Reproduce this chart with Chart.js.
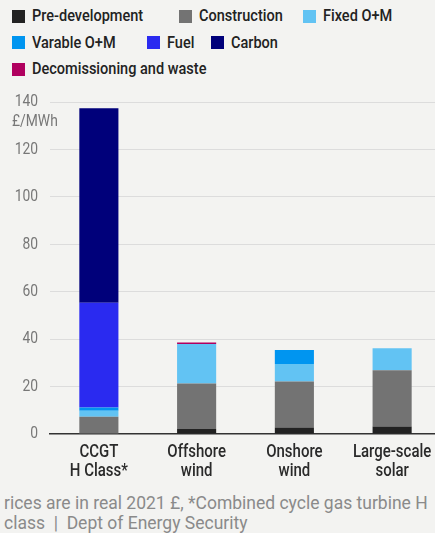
<!DOCTYPE html>
<html>
<head>
<meta charset="utf-8">
<script src="https://cdn.jsdelivr.net/npm/chart.js@4.4.1/dist/chart.umd.min.js"></script>
<style>
  html, body { margin: 0; padding: 0; background: #f3f3f1; width: 435px; height: 533px; overflow: hidden; position: relative; }
  #legend { position: absolute; top: 6px; left: 12px; width: 420px; display: flex; flex-wrap: wrap; row-gap: 6.5px;
            font-family: Roboto, sans-serif; font-weight: 500; font-size: 16.5px; color: #222; line-height: 20px; }
  #legend .item { display: flex; align-items: center; white-space: nowrap; margin-right: 24px; }
  #legend .item:nth-child(1) { margin-right: 36px; }
  #legend .item:nth-child(2) { margin-right: 20px; }
  #legend .item:nth-child(4) { margin-right: 31px; }
  #legend .item:nth-child(5) { margin-right: 17px; }
  #legend .sw { width: 13px; height: 13px; margin-right: 7px; display: inline-block; flex: none; }
  #legend .txt { display: inline-block; transform-origin: 0 50%; }
  #wrap { position: absolute; left: 0; top: 80px; width: 441px; height: 409px; }
  #foot { position: absolute; left: 4px; top: 493px; font-family: Roboto, "Noto Sans", sans-serif; font-size: 17.5px; line-height: 20px; color: #8a8a8a; white-space: nowrap; }
</style>
</head>
<body>
<div id="legend"></div>
<div id="wrap"><canvas id="c" width="441" height="409"></canvas></div>
<div id="foot">rices are in real 2021 £, *Combined cycle gas turbine H<br>class&nbsp; | &nbsp;Dept of Energy Security</div>
<script>
// Levelised cost components, £/MWh (real 2021 prices)
const categories = [["CCGT", "H Class*"], ["Offshore", "wind"], ["Onshore", "wind"], ["Large-scale", "solar"]];
const preDevelopment = [0, 2.1, 2.7, 3.1];
const construction   = [7.3, 19.2, 19.4, 23.8];
const fixedOM        = [2.5, 16.6, 7.4, 9.3];
const variableOM     = [1.4, 0, 5.9, 0];
const fuel           = [44.2, 0, 0, 0];
const carbon         = [82.0, 0, 0, 0];
const decommissioning = [0, 0.7, 0, 0];
const yTicks = [0, 20, 40, 60, 80, 100, 120, 140];
const unitLabel = "£/MWh";

const series = [
  { label: "Pre-development", data: preDevelopment, color: "#222222" },
  { label: "Construction", data: construction, color: "#737373" },
  { label: "Fixed O+M", data: fixedOM, color: "#62c3f3" },
  { label: "Varable O+M", data: variableOM, color: "#0095f0" },
  { label: "Fuel", data: fuel, color: "#2a2af0" },
  { label: "Carbon", data: carbon, color: "#00007a" },
  { label: "Decomissioning and waste", data: decommissioning, color: "#b0005f" }
];

// No condensed face is installed, so text is narrowed horizontally
const NARROW = 0.82;
const LEGEND_NARROW = 0.88;
const canvas = document.getElementById("c");
const g = canvas.getContext("2d");
const baseFill = g.fillText.bind(g);
const baseMeasure = g.measureText.bind(g);
g.fillText = function (text, x, y) {
  this.save();
  this.translate(x, y);
  this.scale(NARROW, 1);
  baseFill(text, 0, 0);
  this.restore();
};
g.measureText = function (text) {
  const m = baseMeasure(text);
  return {
    width: m.width * NARROW,
    actualBoundingBoxAscent: m.actualBoundingBoxAscent,
    actualBoundingBoxDescent: m.actualBoundingBoxDescent
  };
};

// Unit caption under the top tick
const unitPlugin = {
  id: "unitLabel",
  afterDraw(chart) {
    const y = chart.scales.y;
    const ctx = chart.ctx;
    ctx.save();
    ctx.font = "16.9px Roboto, sans-serif";
    ctx.fillStyle = "#777";
    ctx.textAlign = "left";
    ctx.textBaseline = "middle";
    ctx.fillText(unitLabel, 12, y.getPixelForValue(140) + 20);
    ctx.restore();
  }
};

const chart = new Chart(canvas, {
  type: "bar",
  data: {
    labels: categories,
    datasets: series.map(s => ({
      label: s.label,
      data: s.data,
      backgroundColor: s.color,
      borderWidth: 0,
      barPercentage: 0.4,
      categoryPercentage: 1.0
    }))
  },
  options: {
    responsive: false,
    devicePixelRatio: 1,
    animation: false,
    layout: { padding: { top: 12, right: 0, left: 0, bottom: 0 } },
    plugins: { legend: { display: false }, tooltip: { enabled: false } },
    scales: {
      x: {
        stacked: true,
        grid: { display: false, drawTicks: false },
        border: { display: true, color: "#333", width: 1.5 },
        ticks: { color: "#2a2a2a", font: { family: "Roboto, sans-serif", size: 18.3, weight: "500", lineHeight: 1.04 }, padding: 8.5, maxRotation: 0, autoSkip: false }
      },
      y: {
        stacked: true,
        min: 0,
        max: 140,
        afterBuildTicks(axis) { axis.ticks = yTicks.map(v => ({ value: v })); },
        afterFit(axis) { axis.width = 50; },
        grid: { color: "#dcdcdc", lineWidth: 1, drawTicks: false },
        border: { display: false },
        ticks: { color: "#777", font: { family: "Roboto, sans-serif", size: 16.9 }, padding: 12 }
      }
    }
  },
  plugins: [unitPlugin]
});

// Legend built from the chart's datasets
const legend = document.getElementById("legend");
chart.data.datasets.forEach(ds => {
  const item = document.createElement("div");
  item.className = "item";
  const sw = document.createElement("span");
  sw.className = "sw";
  sw.style.background = ds.backgroundColor;
  const txt = document.createElement("span");
  txt.className = "txt";
  txt.textContent = ds.label;
  item.appendChild(sw);
  item.appendChild(txt);
  legend.appendChild(item);
  const w = txt.offsetWidth;
  txt.style.transform = "scaleX(" + LEGEND_NARROW + ")";
  txt.style.marginRight = (-(w * (1 - LEGEND_NARROW))) + "px";
});
</script>
</body>
</html>
